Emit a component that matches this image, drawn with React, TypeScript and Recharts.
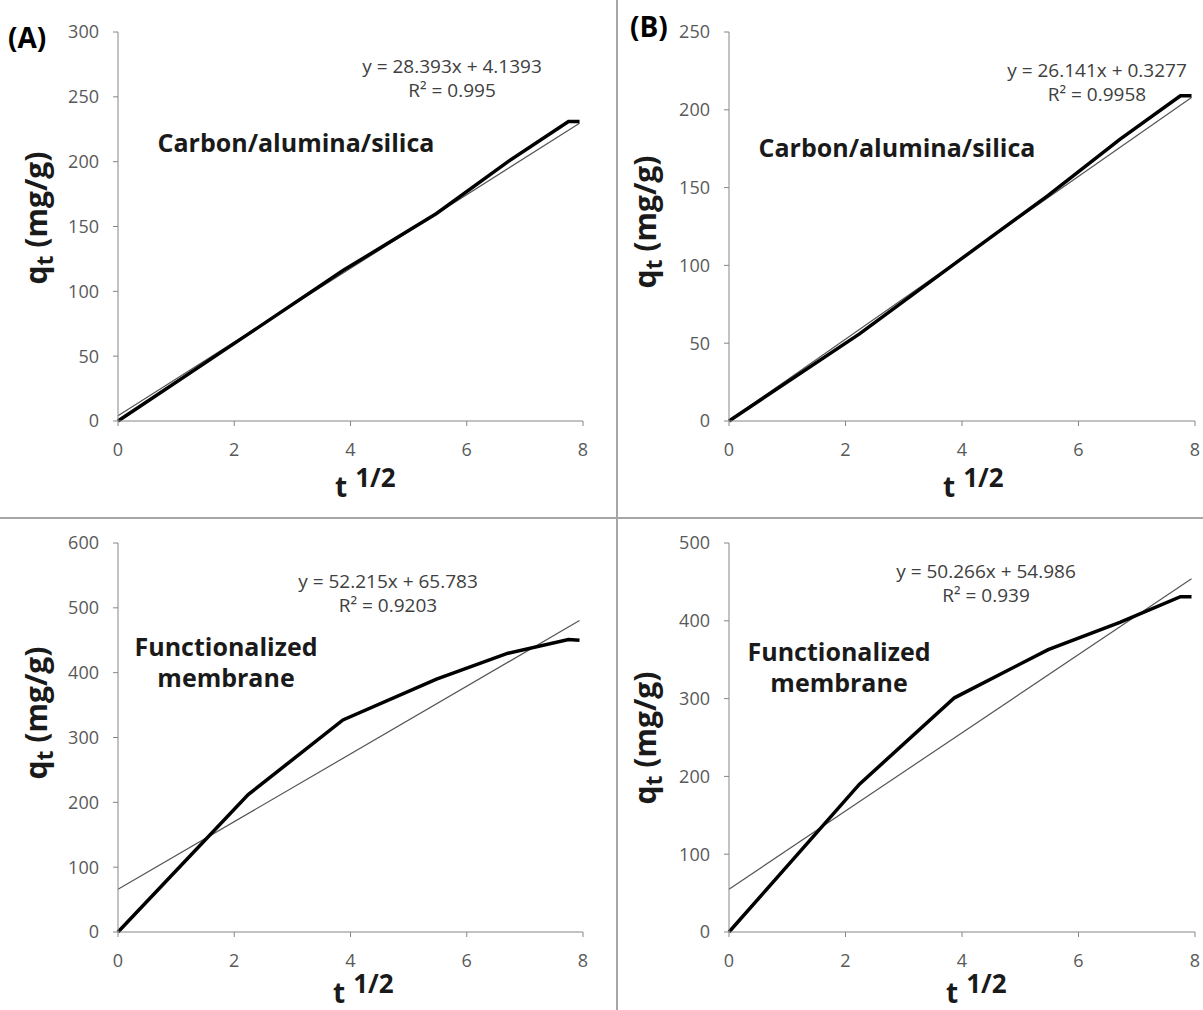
import { LineChart, Line, XAxis, YAxis } from "recharts";

// t^1/2 values shared by all four panels
const sqrtT = [0, 2.24, 3.87, 5.48, 6.71, 7.75, 7.94];
const fitX = [0, 7.94];

// panel A / B: Carbon/alumina/silica
const qtA = [0, 67, 116, 160, 200, 231, 231];
const fitA = [4.14, 229.6];
const qtB = [0, 56, 101, 145, 181, 209, 209];
const fitB = [0.33, 207.9];

// panel C / D: Functionalized membrane
const qtC = [0, 212, 327, 390, 430, 451, 450];
const fitC = [65.8, 480.4];
const qtD = [0, 190, 301, 363, 398, 431, 431];
const fitD = [55.0, 454.1];

const xTicks = [0, 2, 4, 6, 8];
const yTicksA = [0, 50, 100, 150, 200, 250, 300];
const yTicksB = [0, 50, 100, 150, 200, 250];
const yTicksC = [0, 100, 200, 300, 400, 500, 600];
const yTicksD = [0, 100, 200, 300, 400, 500];

const toRows = (xs: number[], ys: number[]) => xs.map((x, i) => ({ x, q: ys[i] }));

const axisColor = "#868686";
const tickStyle = { fill: "#595959", fontSize: 18, fontFamily: "Open Sans" };

type PanelProps = {
  left: number;
  top: number;
  width: number;
  rightPad: number;
  topPad: number;
  qt: number[];
  fit: number[];
  yTicks: number[];
};

const Panel = ({ left, top, width, rightPad, topPad, qt, fit, yTicks }: PanelProps) => (
  <div style={{ position: "absolute", left, top }}>
    <LineChart width={width} height={510} margin={{ top: topPad, right: rightPad, left: 0, bottom: 0 }}>
      <XAxis
        type="number"
        dataKey="x"
        domain={[0, 8]}
        ticks={xTicks}
        height={510 - 421 - (topPad - 32)}
        tickSize={5}
        tickMargin={17}
        stroke={axisColor}
        tick={tickStyle}
      />
      <YAxis
        type="number"
        domain={[0, yTicks[yTicks.length - 1]]}
        ticks={yTicks}
        width={118}
        tickSize={5}
        tickMargin={14}
        stroke={axisColor}
        tick={tickStyle}
      />
      <Line
        data={toRows(fitX, fit)}
        dataKey="q"
        stroke="#555"
        strokeWidth={1.2}
        dot={false}
        isAnimationActive={false}
      />
      <Line
        data={toRows(sqrtT, qt)}
        dataKey="q"
        stroke="#000"
        strokeWidth={3.5}
        dot={false}
        isAnimationActive={false}
      />
    </LineChart>
  </div>
);

const font = "Open Sans";

const YLabel = ({ x, y }: { x: number; y: number }) => (
  <text transform={`translate(${x},${y}) rotate(-90)`} textAnchor="middle" fontFamily={font} fontWeight="bold" fontSize={30} fill="#1a1a1a">
    q<tspan dy={6} fontSize={23}>t</tspan>
    <tspan dy={-6}> (mg/g)</tspan>
  </text>
);

const XLabel = ({ x, y }: { x: number; y: number }) => (
  <text x={x} y={y} fontFamily={font} fontWeight="bold" fontSize={28} fill="#1a1a1a">
    t<tspan dx={8} dy={-10} fontSize={26}>1/2</tspan>
  </text>
);

const Eq = ({ x, y, eq, r2 }: { x: number; y: number; eq: string; r2: string }) => (
  <g fontFamily={font} fontSize={19} fill="#404040" textAnchor="middle">
    <text x={x} y={y}>{eq}</text>
    <text x={x} y={y + 24}>{r2}</text>
  </g>
);

export default function App() {
  return (
    <div style={{ position: "absolute", left: 0, top: 0, width: 1203, height: 1010, background: "#fff", overflow: "hidden" }}>
      <Panel left={0} top={0} width={600} rightPad={17} topPad={32} qt={qtA} fit={fitA} yTicks={yTicksA} />
      <Panel left={611} top={0} width={592} rightPad={8} topPad={32} qt={qtB} fit={fitB} yTicks={yTicksB} />
      <Panel left={0} top={510} width={600} rightPad={17} topPad={33} qt={qtC} fit={fitC} yTicks={yTicksC} />
      <Panel left={611} top={510} width={592} rightPad={8} topPad={33} qt={qtD} fit={fitD} yTicks={yTicksD} />

      <svg width={1203} height={1010} style={{ position: "absolute", left: 0, top: 0, pointerEvents: "none" }}>
        <line x1={617} y1={0} x2={617} y2={1010} stroke="#a6a6a6" strokeWidth={2} />
        <line x1={0} y1={518} x2={1203} y2={518} stroke="#a6a6a6" strokeWidth={2} />

        <text x={8} y={48} fontFamily={font} fontWeight="bold" fontSize={28} fill="#000">(A)</text>
        <text x={630} y={37} fontFamily={font} fontWeight="bold" fontSize={28} fill="#000">(B)</text>

        <g fontFamily={font} fontWeight="bold" fontSize={25} fill="#1a1a1a" textAnchor="middle">
          <text x={296} y={152}>Carbon/alumina/silica</text>
          <text x={897} y={157}>Carbon/alumina/silica</text>
          <text x={226} y={656}>Functionalized</text>
          <text x={226} y={687}>membrane</text>
          <text x={839} y={661}>Functionalized</text>
          <text x={839} y={692}>membrane</text>
        </g>

        <Eq x={452} y={73} eq="y = 28.393x + 4.1393" r2="R² = 0.995" />
        <Eq x={1097} y={77} eq="y = 26.141x + 0.3277" r2="R² = 0.9958" />
        <Eq x={388} y={588} eq="y = 52.215x + 65.783" r2="R² = 0.9203" />
        <Eq x={986} y={578} eq="y = 50.266x + 54.986" r2="R² = 0.939" />

        <YLabel x={47} y={218} />
        <YLabel x={656} y={222} />
        <YLabel x={47} y={713} />
        <YLabel x={656} y={738} />

        <XLabel x={335} y={497} />
        <XLabel x={943} y={497} />
        <XLabel x={333} y={1003} />
        <XLabel x={946} y={1003} />
      </svg>
    </div>
  );
}
